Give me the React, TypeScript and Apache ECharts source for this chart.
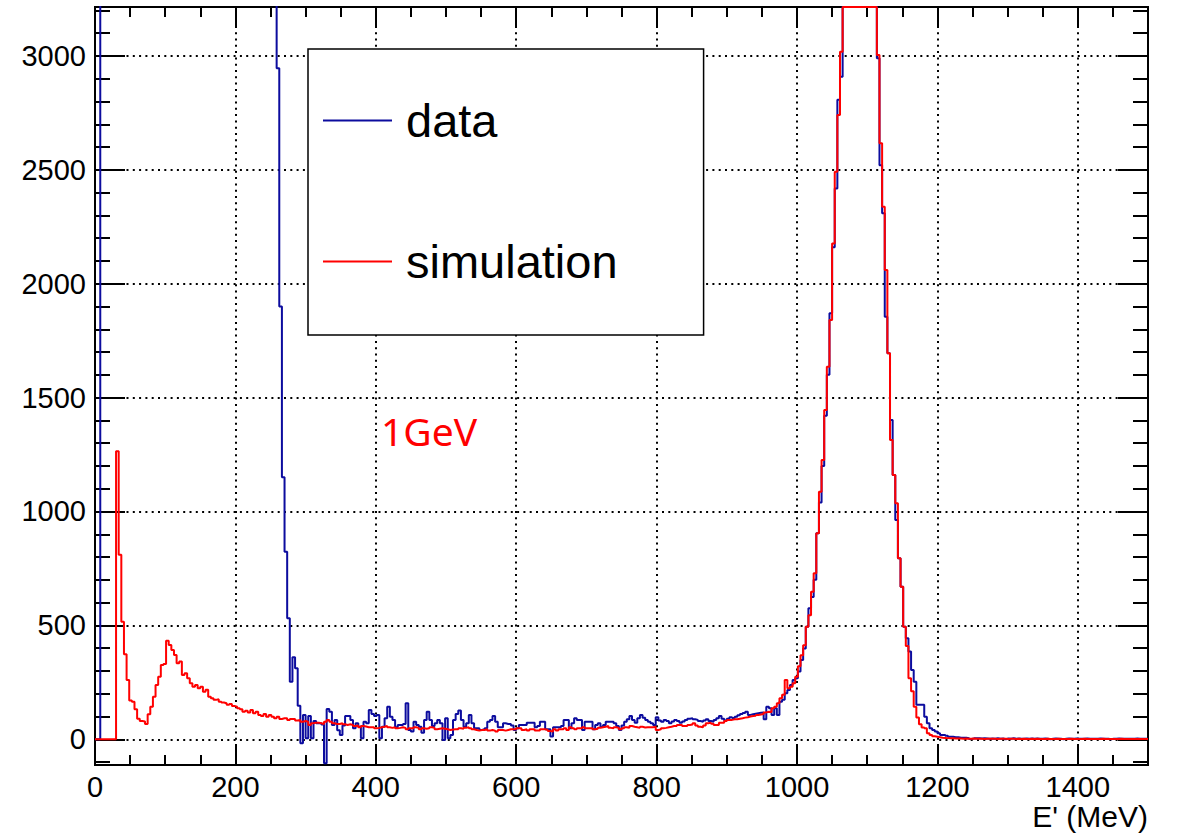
import React, { useEffect, useRef } from "react";
import * as echarts from "echarts";

// ---- Data (histograms, 400 bins of 3.75 MeV from 0 to 1500 MeV) ----
const BIN_WIDTH = 3.75;
const X_MIN = 0;
const X_MAX = 1500;
const Y_MIN = -113;
const Y_MAX = 3215;

const seriesNames = ["data", "simulation"];
const annotation = "1GeV";
const xAxisTitle = "E' (MeV)";

// measured data (blue)
const dataCounts = [
  0, 0, 42000, 39500, 36800, 34200, 31900, 29700, 27600, 25800, 24100, 22500, 21000, 19700, 18500, 17400, 16400, 15500, 14700, 13900,
  13200, 12600, 12000, 11500, 11000, 10600, 10200, 9800, 9450, 9100, 8800, 8500, 8250, 8000, 7750, 7500, 7300, 7100, 6900, 6700,
  6550, 6400, 6250, 6100, 5950, 5800, 5700, 5600, 5500, 5400, 5300, 5200, 5100, 5000, 4900, 4800, 4700, 4600, 4500, 4400,
  4300, 4200, 4100, 3950, 3800, 3650, 3500, 3400, 3300, 2946, 1900, 1150, 823, 531, 253, 360, 312, 147, -17, 107,
  4, 102, 4, 80, 70, 70, 65, -105, 133, 121, 63, 85, 40, 19, 60, 102, 102, 85, 48, 70,
  55, 4, 77, 70, 129, 111, 102, 107, 4, 55, 92, 143, 99, 85, 53, 63, 63, 67, 158, 41,
  34, 77, 63, 55, 29, 85, 121, 85, 58, 70, 85, 70, -3, 92, 4, 19, 85, 111, 126, 85,
  55, 70, 107, 70, 48, 48, 41, 44, 48, 77, 85, 102, 77, 53, 53, 70, 67, 67, 60, 41,
  48, 63, 63, 63, 73, 73, 73, 53, 58, 77, 77, 44, 44, 12, 53, 53, 53, 58, 85, 85,
  48, 70, 92, 85, 85, 41, 77, 77, 77, 44, 63, 70, 55, 63, 77, 77, 77, 70, 58, 41,
  60, 77, 88, 102, 85, 73, 92, 107, 95, 85, 77, 70, 63, 97, 82, 77, 85, 80, 70, 78,
  85, 80, 73, 78, 85, 90, 92, 88, 85, 80, 77, 82, 88, 80, 77, 85, 92, 102, 90, 82,
  90, 97, 93, 99, 105, 111, 115, 121, 107, 110, 112, 114, 116, 117, 88, 143, 136, 107, 136, 107,
  165, 173, 202, 216, 238, 260, 268, 297, 348, 399, 494, 575, 625, 700, 904, 1040, 1200, 1420, 1600, 1870,
  2160, 2418, 2808, 2909, 3400, 3750, 4050, 4300, 4450, 4520, 4500, 4420, 4280, 4080, 3830, 3570, 3320, 2990, 2520, 2309,
  1855, 1695, 1402, 1160, 963, 795, 670, 494, 443, 385, 304, 253, 151, 151, 151, 99, 70, 48, 41, 34,
  26, 19, 19, 15, 11, 11, 9, 9, 7, 7, 7, 5, 1, 4, 5, 4, 3, 4, 3, 2,
  3, 2, 4, 2, 3, 0, 3, 2, 4, 2, 3, 2, 2, 3, 2, 3, 2, 3, 2, 2,
  3, 2, 0, 2, 3, 2, 2, 0, 2, 3, 2, 2, 3, 2, 2, 2, 3, 2, 2, 2,
  2, 3, 2, 2, 2, 0, 2, 2, 3, 2, 2, 2, 2, 2, 2, 3, 2, 2, 2, 2,
];

// simulation (red)
const simulationCounts = [
  0, 0, 0, 0, 0, 0, 0, 0, 1265, 810, 516, 373, 260, 170, 165, 132, 90, 80, 78, 67,
  110, 143, 187, 238, 275, 326, 330, 433, 414, 392, 370, 334, 341, 282, 290, 268, 246, 231, 238, 224,
  231, 209, 217, 187, 180, 173, 176, 165, 161, 158, 151, 155, 146, 143, 136, 132, 121, 125, 117, 128,
  114, 121, 106, 102, 111, 99, 106, 99, 92, 99, 89, 92, 92, 85, 89, 89, 82, 85, 77, 80,
  77, 63, 70, 73, 73, 70, 67, 77, 85, 77, 70, 67, 67, 70, 66, 63, 66, 63, 58, 60,
  53, 58, 56, 53, 53, 53, 48, 50, 53, 55, 58, 53, 50, 53, 48, 50, 53, 50, 44, 48,
  48, 53, 50, 44, 48, 46, 48, 53, 50, 44, 46, 48, 46, 44, 41, 43, 44, 44, 48, 46,
  50, 53, 48, 44, 41, 38, 41, 41, 44, 38, 41, 38, 34, 41, 41, 38, 41, 44, 44, 44,
  48, 48, 41, 44, 38, 44, 44, 38, 38, 44, 44, 41, 36, 34, 44, 38, 44, 44, 48, 41,
  53, 48, 44, 48, 48, 53, 48, 48, 48, 44, 46, 50, 53, 55, 58, 50, 48, 53, 50, 44,
  48, 53, 50, 58, 55, 53, 50, 55, 52, 53, 53, 53, 55, 41, 44, 48, 50, 53, 55, 58,
  58, 63, 63, 58, 58, 63, 65, 70, 60, 55, 53, 60, 70, 73, 68, 63, 63, 73, 73, 80,
  85, 85, 88, 88, 90, 92, 95, 97, 100, 102, 103, 107, 109, 111, 118, 121, 120, 136, 143, 158,
  180, 195, 260, 224, 231, 246, 275, 321, 369, 413, 494, 545, 648, 729, 904, 1087, 1226, 1446, 1636, 1841,
  2177, 2492, 2741, 3019, 3350, 3700, 4000, 4250, 4400, 4480, 4480, 4400, 4250, 4050, 3800, 3550, 3300, 3004, 2617, 2338,
  2060, 1695, 1314, 1160, 1036, 795, 670, 494, 410, 268, 211, 143, 96, 66, 52, 48, 26, 19, 13, 11,
  9, 7, 6, 5, 4, 4, 3, 3, 3, 2, 3, 2, 2, 3, 2, 2, 2, 1, 2, 2,
  2, 2, 1, 2, 2, 2, 1, 2, 2, 1, 2, 1, 2, 1, 1, 2, 1, 2, 1, 1,
  1, 2, 1, 1, 1, 2, 1, 1, 1, 1, 2, 1, 1, 1, 1, 2, 1, 1, 1, 1,
  1, 1, 2, 1, 1, 1, 1, 1, 1, 2, 1, 1, 1, 1, 1, 1, 1, 1, 1, 1,
];

// ---- styles ----
const FONT = "'Liberation Sans', Arial, Helvetica, sans-serif";
const BLUE = "#0c0c9e";
const RED = "#ff0000";

// left-edge points, drawn as a step histogram; optionally pinned to the frame top
function toSteps(counts: number[], pinToFrame: boolean): number[][] {
  const f = (v: number) => (pinToFrame ? Math.max(Y_MIN, Math.min(Y_MAX, v)) : v);
  const pts = counts.map((v, i) => [i * BIN_WIDTH, f(v)]);
  pts.push([X_MAX, f(counts[counts.length - 1])]);
  return pts;
}

const tickStyle = { color: "#000", width: 2 };

function xAxisDef(position: "top" | "bottom", interval: number, len: number, main: boolean) {
  const isMain = main && position === "bottom";
  return {
    type: "value",
    position,
    min: X_MIN,
    max: X_MAX,
    interval,
    axisLine: { show: false, onZero: false },
    axisTick: { show: true, inside: true, length: len, lineStyle: tickStyle },
    axisLabel: isMain
      ? {
          show: true,
          fontSize: 29,
          fontFamily: FONT,
          color: "#000",
          margin: 7,
          showMaxLabel: false,
          formatter: (v: number) => String(v),
        }
      : { show: false },
    splitLine: isMain
      ? { show: true, lineStyle: { color: "#000", width: 2, type: [2, 4.3] } }
      : { show: false },
  };
}

function yAxisDef(position: "left" | "right", interval: number, len: number, main: boolean) {
  const isMain = main && position === "left";
  return {
    type: "value",
    position,
    min: Y_MIN,
    max: Y_MAX,
    minInterval: interval,
    maxInterval: interval,
    splitNumber: 7,
    axisLine: { show: false, onZero: false },
    axisTick: { show: true, inside: true, length: len, lineStyle: tickStyle },
    axisLabel: isMain
      ? {
          show: true,
          fontSize: 29,
          fontFamily: FONT,
          color: "#000",
          margin: 9,
          showMinLabel: false,
          showMaxLabel: false,
          formatter: (v: number) => String(v),
        }
      : { show: false },
    splitLine: isMain
      ? { show: true, lineStyle: { color: "#000", width: 2, type: [2, 4.3] } }
      : { show: false },
  };
}

export default function App() {
  const ref = useRef<HTMLDivElement>(null);

  useEffect(() => {
    if (!ref.current) return;
    const chart = echarts.init(ref.current, null, { renderer: "svg" });
    chart.setOption({
      animation: false,
      backgroundColor: "#fff",
      grid: {
        left: 95,
        right: 30,
        top: 7,
        bottom: 71,
        containLabel: false,
        outerBoundsMode: "none",
        show: true,
        borderColor: "#000",
        borderWidth: 2,
        backgroundColor: "transparent",
      },
      xAxis: [
        xAxisDef("bottom", 200, 21, true),
        xAxisDef("bottom", 50, 10, false),
        xAxisDef("top", 200, 21, false),
        xAxisDef("top", 50, 10, false),
      ],
      yAxis: [
        yAxisDef("left", 500, 30, true),
        yAxisDef("left", 100, 15, false),
        yAxisDef("right", 500, 30, false),
        yAxisDef("right", 100, 15, false),
      ],
      legend: {
        show: true,
        data: seriesNames,
        orient: "vertical",
        left: 308,
        top: 49,
        icon: "rect",
        itemWidth: 69,
        itemHeight: 2,
        itemGap: 94,
        padding: [48, 86, 50, 15],
        backgroundColor: "#fff",
        borderColor: "#000",
        borderWidth: 1.5,
        selectedMode: false,
        textStyle: {
          fontSize: 47,
          fontFamily: FONT,
          color: "#000",
          padding: [0, 0, 0, 9],
        },
      },
      graphic: [
        {
          type: "text",
          x: 381,
          y: 430,
          style: {
            text: annotation,
            fill: RED,
            font: "39px 'Noto Sans', 'Open Sans', sans-serif",
            textAlign: "left",
            textVerticalAlign: "middle",
          },
          z: 10,
        },
        {
          type: "text",
          x: 1148,
          y: 816,
          style: {
            text: xAxisTitle,
            fill: "#000",
            font: "30px 'Liberation Sans', Arial, Helvetica, sans-serif",
            textAlign: "right",
            textVerticalAlign: "middle",
          },
        },
      ],
      series: [
        {
          type: "line",
          name: seriesNames[0],
          data: toSteps(dataCounts, false),
          step: "end",
          symbol: "none",
          showSymbol: false,
          clip: true,
          silent: true,
          xAxisIndex: 0,
          yAxisIndex: 0,
          color: BLUE,
          lineStyle: { color: BLUE, width: 2 },
          itemStyle: { color: BLUE },
        },
        {
          type: "line",
          name: seriesNames[1],
          data: toSteps(simulationCounts, true),
          step: "end",
          symbol: "none",
          showSymbol: false,
          clip: true,
          silent: true,
          xAxisIndex: 0,
          yAxisIndex: 0,
          color: RED,
          lineStyle: { color: RED, width: 2 },
          itemStyle: { color: RED },
        },
      ],
    });
    return () => chart.dispose();
  }, []);

  return (
    <div
      ref={ref}
      style={{ position: "absolute", left: 0, top: 0, width: 1178, height: 836, background: "#fff" }}
    />
  );
}
